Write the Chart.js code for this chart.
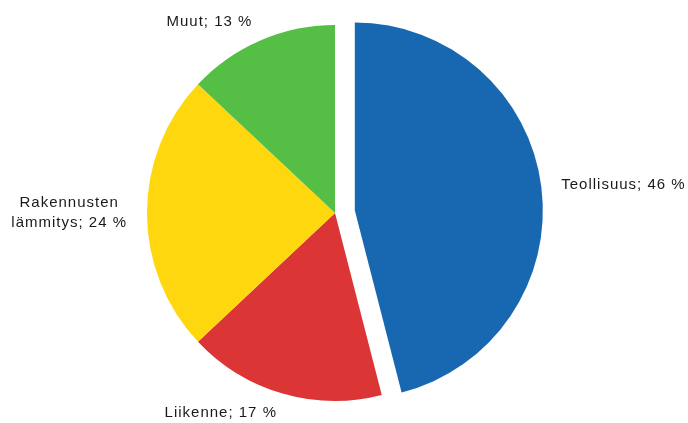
<!DOCTYPE html>
<html>
<head>
<meta charset="utf-8">
<script src="https://cdn.jsdelivr.net/npm/chart.js@4/dist/chart.umd.min.js"></script>
<style>
  html, body { margin: 0; padding: 0; background: #fff; }
  #wrap { width: 688px; height: 423px; }
</style>
</head>
<body>
<div id="wrap"><canvas id="c" width="688" height="423"></canvas></div>
<script>
// Energy use by sector, share of total (%)
const categories = ['Teollisuus', 'Liikenne', ['Rakennusten', 'lämmitys'], 'Muut'];
const shares = [46, 17, 24, 13];
const sliceColors = ['#1867B1', '#DC3535', '#FFD70F', '#55BF45'];
const explode = [20, 0, 0, 0];   // px a slice is pulled out along its middle angle

// Pie controller that pulls slices out by a plain translation (keeps radius unchanged)
class ExplodedPieController extends Chart.PieController {
  draw() {
    const ctx = this.chart.ctx;
    const area = this.chart.chartArea;
    this._cachedMeta.data.forEach((arc, i) => {
      if (arc.hidden) return;
      const d = explode[i] || 0;
      ctx.save();
      if (d) {
        const mid = (arc.startAngle + arc.endAngle) / 2;
        ctx.translate(Math.cos(mid) * d, Math.sin(mid) * d);
      }
      arc.draw(ctx, area);
      ctx.restore();
    });
  }
}
ExplodedPieController.id = 'explodedPie';
ExplodedPieController.defaults = Chart.PieController.defaults;
ExplodedPieController.overrides = Chart.PieController.overrides;
Chart.register(ExplodedPieController);

// Outside labels "Name; NN %"
const sliceLabels = {
  id: 'sliceLabels',
  afterDatasetsDraw(chart) {
    const ctx = chart.ctx;
    const meta = chart.getDatasetMeta(0);
    const gap = 20, lineH = 20;
    ctx.save();
    ctx.font = '15px "Liberation Sans", Arial, sans-serif';
    ctx.fillStyle = '#1a1a1a';
    ctx.textBaseline = 'middle';
    if ('letterSpacing' in ctx) ctx.letterSpacing = '1px';
    meta.data.forEach((arc, i) => {
      const mid = (arc.startAngle + arc.endAngle) / 2;
      const d = explode[i] || 0;
      const r = arc.outerRadius + gap + d;
      const ax = arc.x + Math.cos(mid) * r;
      const ay = arc.y + Math.sin(mid) * r;
      const name = Array.isArray(categories[i]) ? categories[i].slice() : [categories[i]];
      name[name.length - 1] += '; ' + shares[i] + ' %';
      const widths = name.map(t => ctx.measureText(t).width);
      const w = Math.max(...widths);
      const cx = Math.cos(mid) >= 0 ? ax + w / 2 : ax - w / 2;
      const top = ay - (name.length - 1) * lineH / 2;
      ctx.textAlign = 'center';
      name.forEach((t, k) => ctx.fillText(t, cx, top + k * lineH));
    });
    ctx.restore();
  }
};

new Chart(document.getElementById('c'), {
  type: 'explodedPie',
  data: {
    labels: categories.map(c => Array.isArray(c) ? c.join(' ') : c),
    datasets: [{
      data: shares,
      backgroundColor: sliceColors,
      borderWidth: 0
    }]
  },
  options: {
    responsive: false,
    animation: false,
    radius: 188,
    layout: { padding: { left: 0, right: 18, top: 3, bottom: 0 } },
    plugins: {
      legend: { display: false },
      tooltip: { enabled: false }
    }
  },
  plugins: [sliceLabels]
});
</script>
</body>
</html>
